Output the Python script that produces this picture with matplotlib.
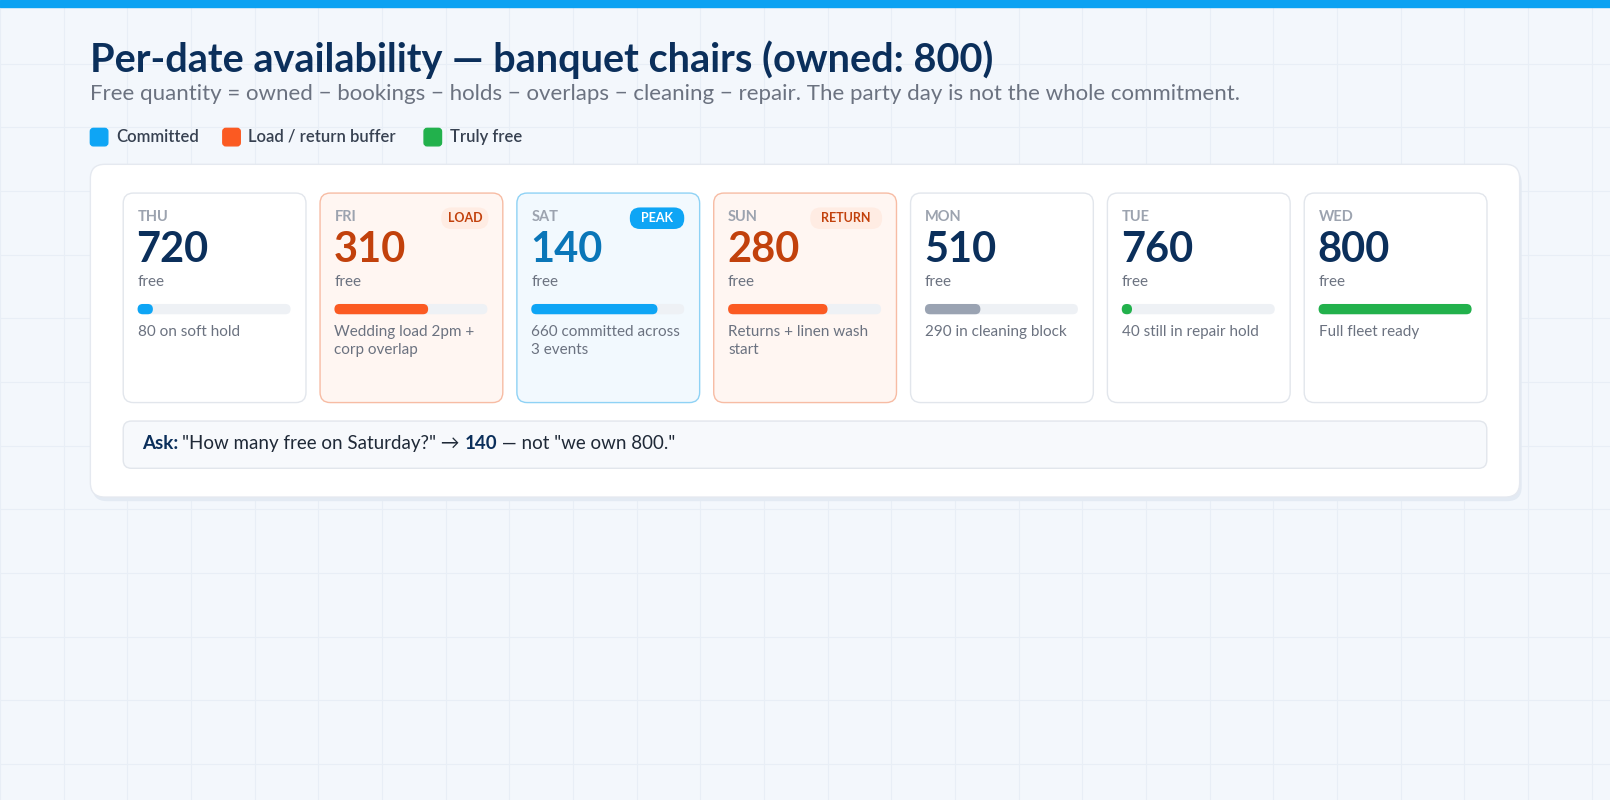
import matplotlib
matplotlib.use("Agg")
import matplotlib.pyplot as plt
from matplotlib.patches import FancyBboxPatch, Rectangle

days = ["THU", "FRI", "SAT", "SUN", "MON", "TUE", "WED"]
free = [720, 310, 140, 280, 510, 760, 800]
bar_values = [80, 490, 660, 520, 290, 40, 800]
notes = ["80 on soft hold", "Wedding load 2pm +\ncorp overlap", "660 committed across\n3 events",
         "Returns + linen wash\nstart", "290 in cleaning block", "40 still in repair hold", "Full fleet ready"]
badges = [None, "LOAD", "PEAK", "RETURN", None, None, None]
owned = 800
kinds = ["plain", "load", "peak", "load", "plain", "plain", "plain"]
bar_colors = ["#0ea5f5", "#fb5a22", "#0ea5f5", "#fb5a22", "#9aa3b2", "#22b14c", "#22b14c"]

W, H = 1568, 779
plt.rcParams['font.family'] = ['Lato', 'DejaVu Sans']
fig = plt.figure(figsize=(16.1, 8), dpi=100)
ax = fig.add_axes([0, 0, 1, 1])
ax.set_xlim(0, W); ax.set_ylim(0, H); ax.axis('off')
fig.patch.set_facecolor('#f3f7fc')
ax.add_patch(Rectangle((0, 0), W, H, color='#f3f7fc', zorder=0))
for gx in range(0, W, 62):
    ax.plot([gx, gx], [0, H], color='#e8eef6', lw=0.8, zorder=0.5)
for gy in range(0, H, 62):
    ax.plot([0, W], [H - gy, H - gy], color='#e8eef6', lw=0.8, zorder=0.5)
ax.add_patch(Rectangle((0, H - 7), W, 7, color='#0ba2f2', zorder=5))

def Y(y): return H - y
def rbox(x, y, w, h, r, fc, ec, lw=1.0, z=2):
    ax.add_patch(FancyBboxPatch((x + r, Y(y + h) + r), w - 2 * r, h - 2 * r,
                                boxstyle=f"round,pad={r}", fc=fc, ec=ec, lw=lw, zorder=z))

ax.text(88, Y(58), "Per-date availability — banquet chairs (owned: 800)", fontsize=28.5, fontweight='bold',
        color='#0b2f5b', va='center')
ax.text(88, Y(92), "Free quantity = owned − bookings − holds − overlaps − cleaning − repair. The party day is not the whole commitment.",
        fontsize=16, color='#6b7280', va='center')
lx = 88
for lab, c, step in [("Committed", "#0ea5f5", 129), ("Load / return buffer", "#fb5a22", 196), ("Truly free", "#22b14c", 0)]:
    rbox(lx, 125, 17, 17, 3, c, c, z=3)
    ax.text(lx + 25, Y(133), lab, fontsize=12, color='#374151', va='center', fontweight='semibold')
    lx += step

rbox(90, 164, 1392, 324, 14, '#e3eaf3', 'none', z=1.5)
rbox(88, 160, 1392, 324, 14, 'white', '#e5e9f0', z=2)

styles = {
    "plain": dict(fc='white', ec='#e2e6ec', num='#0b2f5b'),
    "load": dict(fc='#fff6f2', ec='#f7bca4', num='#c2410c'),
    "peak": dict(fc='#f2f9fe', ec='#8fd2f5', num='#0a76b8'),
}
for i, d in enumerate(days):
    x = 120 + i * 191.7
    s = styles[kinds[i]]
    rbox(x, 188, 178, 204, 10, s['fc'], s['ec'], z=3)
    ax.text(x + 14, Y(211), " ".join(d) if False else d, fontsize=10.5, color='#9ca3af', fontweight='bold', va='center')
    ax.text(x + 13, Y(243), str(free[i]), fontsize=30, color=s['num'], fontweight='bold', va='center')
    ax.text(x + 14, Y(275), "free", fontsize=11, color='#6b7280', va='center')
    bw = 149
    rbox(x + 14, 296, bw, 10, 5, '#eef1f5', 'none', z=4)
    fw = bw * bar_values[i] / owned
    rbox(x + 14, 296, max(fw, 10), 10, 5, bar_colors[i], 'none', z=5)
    ax.text(x + 14, Y(316), notes[i], fontsize=11, color='#6b7280', va='top', linespacing=1.45)
    b = badges[i]
    if b == "PEAK":
        rbox(x + 110, 202, 53, 21, 10, '#0ea5f5', 'none', z=5)
        ax.text(x + 136.5, Y(212.5), b, fontsize=9, color='white', fontweight='bold', ha='center', va='center', zorder=6)
    elif b:
        bwid = 46 if b == "LOAD" else 70
        rbox(x + 164 - bwid, 202, bwid, 21, 10, '#ffece3', 'none', z=5)
        ax.text(x + 164 - bwid / 2, Y(212.5), b, fontsize=9, color='#c2410c', fontweight='bold', ha='center', va='center', zorder=6)

rbox(120, 410, 1328, 46, 8, '#f7f9fc', '#e2e6ec', z=3)
fig.canvas.draw()
r = fig.canvas.get_renderer()
cx = 138
for txt, col, wt in [("Ask: ", '#0b2f5b', 'bold'), ("\"How many free on Saturday?\" → ", '#1f2937', 'normal'),
                     ("140", '#0b2f5b', 'bold'), (" — not \"we own 800.\"", '#1f2937', 'normal')]:
    t = ax.text(cx, Y(432), txt, fontsize=13.5, color=col, fontweight=wt, va='center', zorder=6)
    bb = t.get_window_extent(renderer=r)
    cx += bb.width * W / fig.bbox.width

fig.savefig("out.png", dpi=100, facecolor=fig.get_facecolor())
